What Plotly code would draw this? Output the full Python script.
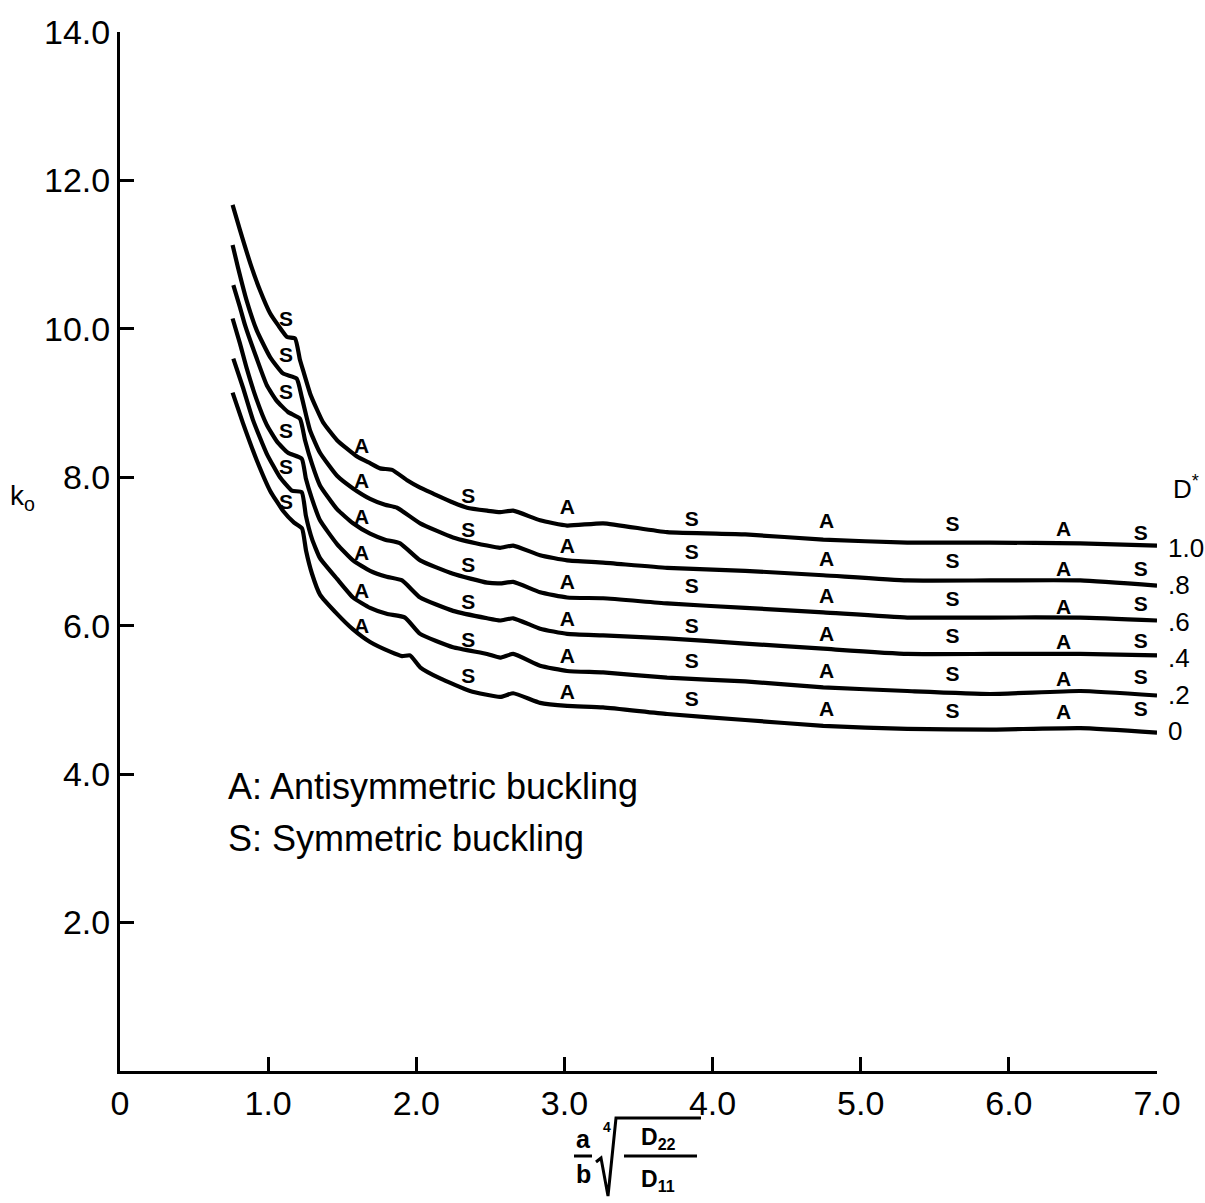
import plotly.graph_objects as go

# ---------------- data ----------------
d_star = ["1.0", ".8", ".6", ".4", ".2", "0"]

x_d10 = [0.76, 0.81, 0.88, 0.945, 1.013, 1.067, 1.128, 1.182, 1.215, 1.236, 1.283, 1.328, 1.371, 1.465,
         1.60, 1.688, 1.756, 1.837, 1.938, 2.026, 2.114, 2.248, 2.343, 2.478, 2.566, 2.654, 2.836,
         3.018, 3.261, 3.693, 4.22, 4.747, 5.314, 5.874, 6.482, 7.0]
k_d10 = [11.67, 11.33, 10.88, 10.52, 10.21, 10.05, 9.89, 9.87, 9.58, 9.44, 9.13, 8.92, 8.74, 8.50,
         8.28, 8.19, 8.12, 8.10, 7.96, 7.86, 7.78, 7.66, 7.59, 7.55, 7.53, 7.55, 7.42,
         7.35, 7.38, 7.26, 7.23, 7.16, 7.12, 7.12, 7.11, 7.08]

x_d08 = [0.76, 0.796, 0.855, 0.923, 1.013, 1.10, 1.193, 1.227, 1.283, 1.35, 1.465, 1.573, 1.688, 1.789,
         1.87, 2.026, 2.248, 2.478, 2.566, 2.654, 2.836, 3.018, 3.261, 3.693, 4.22, 4.747, 5.314,
         5.874, 6.482, 7.0]
k_d08 = [11.13, 10.83, 10.38, 9.98, 9.62, 9.40, 9.33, 9.08, 8.63, 8.33, 8.02, 7.85, 7.71, 7.63,
         7.59, 7.38, 7.19, 7.08, 7.05, 7.08, 6.95, 6.88, 6.85, 6.78, 6.74, 6.68, 6.61,
         6.61, 6.61, 6.54]

x_d06 = [0.765, 0.81, 0.844, 0.923, 0.991, 1.058, 1.134, 1.215, 1.249, 1.296, 1.35, 1.465, 1.573, 1.688,
         1.789, 1.891, 2.026, 2.248, 2.478, 2.566, 2.654, 2.836, 3.018, 3.261, 3.693, 4.22, 4.747,
         5.314, 5.874, 6.482, 7.0]
k_d06 = [10.59, 10.29, 10.05, 9.60, 9.24, 9.03, 8.88, 8.79, 8.50, 8.18, 7.89, 7.57, 7.38, 7.24,
         7.16, 7.11, 6.88, 6.70, 6.58, 6.57, 6.59, 6.45, 6.38, 6.37, 6.30, 6.24, 6.18,
         6.11, 6.11, 6.11, 6.07]

x_d04 = [0.76, 0.81, 0.855, 0.92, 0.99, 1.06, 1.134, 1.227, 1.255, 1.296, 1.35, 1.465, 1.573, 1.688,
         1.80, 1.904, 2.026, 2.248, 2.478, 2.566, 2.654, 2.836, 3.018, 3.261, 3.693, 4.22, 4.747,
         5.314, 5.874, 6.482, 7.0]
k_d04 = [10.14, 9.80, 9.47, 9.06, 8.71, 8.48, 8.33, 8.25, 7.98, 7.71, 7.42, 7.10, 6.88, 6.74,
         6.66, 6.61, 6.38, 6.20, 6.10, 6.07, 6.10, 5.96, 5.89, 5.87, 5.83, 5.76, 5.69,
         5.62, 5.62, 5.62, 5.60]

x_d02 = [0.765, 0.83, 0.898, 0.99, 1.08, 1.16, 1.227, 1.255, 1.296, 1.35, 1.465, 1.573, 1.688, 1.80,
         1.924, 2.026, 2.248, 2.478, 2.566, 2.654, 2.836, 3.018, 3.261, 3.693, 4.22, 4.747, 5.314,
         5.874, 6.482, 7.0]
k_d02 = [9.60, 9.21, 8.77, 8.32, 8.00, 7.82, 7.80, 7.48, 7.17, 6.91, 6.63, 6.38, 6.24, 6.16,
         6.11, 5.89, 5.71, 5.62, 5.57, 5.62, 5.46, 5.39, 5.37, 5.30, 5.25, 5.17, 5.12,
         5.08, 5.12, 5.06]

x_d00 = [0.76, 0.83, 0.923, 1.013, 1.10, 1.175, 1.229, 1.256, 1.296, 1.35, 1.465, 1.573, 1.688, 1.823,
         1.904, 1.958, 2.026, 2.161, 2.363, 2.566, 2.654, 2.836, 3.018, 3.261, 3.693, 4.22, 4.747,
         5.314, 5.874, 6.482, 7.0]
k_d00 = [9.14, 8.73, 8.23, 7.82, 7.55, 7.39, 7.31, 7.01, 6.70, 6.42, 6.16, 5.95, 5.78, 5.65,
         5.59, 5.60, 5.44, 5.29, 5.12, 5.04, 5.09, 4.96, 4.92, 4.90, 4.81, 4.73, 4.65,
         4.61, 4.60, 4.62, 4.56]

series_x = [x_d10, x_d08, x_d06, x_d04, x_d02, x_d00]
series_k = [k_d10, k_d08, k_d06, k_d04, k_d02, k_d00]

# buckling-mode letters written along each curve
mode_letters = ["S", "A", "S", "A", "S", "A", "S", "A", "S"]
mode_x = [1.12, 1.63, 2.35, 3.02, 3.86, 4.77, 5.62, 6.37, 6.89]
mode_k = [
    [10.11, 8.40, 7.73, 7.58, 7.42, 7.39, 7.35, 7.28, 7.22],
    [9.62, 7.93, 7.26, 7.05, 6.97, 6.88, 6.85, 6.74, 6.74],
    [9.13, 7.44, 6.80, 6.57, 6.51, 6.38, 6.34, 6.23, 6.27],
    [8.60, 6.95, 6.30, 6.07, 5.97, 5.87, 5.84, 5.76, 5.77],
    [8.12, 6.45, 5.79, 5.57, 5.50, 5.37, 5.33, 5.26, 5.29],
    [7.65, 5.97, 5.30, 5.08, 4.99, 4.86, 4.83, 4.81, 4.86],
]

x_tickvals = [0, 1, 2, 3, 4, 5, 6, 7]
x_ticktext = ["0", "1.0", "2.0", "3.0", "4.0", "5.0", "6.0", "7.0"]
y_tickvals = [2, 4, 6, 8, 10, 12, 14]
y_ticktext = ["2.0", "4.0", "6.0", "8.0", "10.0", "12.0", "14.0"]

# ---------------- layout helpers ----------------
W, H = 1205, 1203
ML, MR, MT, MB = 120, 48, 32, 132
PW, PH = W - ML - MR, H - MT - MB
FONT = "Liberation Sans, Arial, sans-serif"


def P(px, py):
    """pixel position -> paper coordinates"""
    return (px - ML) / PW, (H - MB - py) / PH


fig = go.Figure()

for name, xs, ks in zip(d_star, series_x, series_k):
    fig.add_trace(go.Scatter(x=xs, y=ks, mode="lines", name="D* = " + name,
                             line=dict(color="black", width=4.2, shape="spline", smoothing=0.45),
                             showlegend=False, hoverinfo="skip"))

for ks in mode_k:
    fig.add_trace(go.Scatter(x=mode_x, y=ks, mode="text", text=mode_letters,
                             textfont=dict(family=FONT, size=21, color="black", weight="bold"),
                             showlegend=False, hoverinfo="skip"))

annotations = []


def ann(px, py, text, size, xanchor="center", weight="normal"):
    ax, ay = P(px, py)
    annotations.append(dict(x=ax, y=ay, xref="paper", yref="paper", text=text, showarrow=False,
                            xanchor=xanchor, yanchor="middle",
                            font=dict(family=FONT, size=size, color="black", weight=weight)))


# D* values at the right end of the curves
for txt, py in zip(d_star, [548, 585, 622, 658, 695, 731]):
    ann(1166, py, txt, 26, xanchor="left")
ann(1186, 488, "D<sup>*</sup>", 26)

# legend text inside the plot
ann(226, 786, "A: Antisymmetric buckling", 36, xanchor="left")
ann(226, 838, "S: Symmetric buckling", 36, xanchor="left")

# y axis title
ann(22, 497, "k<sub>o</sub>", 28)

# x axis title: a/b * 4th-root(D22/D11)
ann(583, 1139, "a", 25, weight="bold")
ann(583, 1174, "b", 25, weight="bold")
ann(607, 1127, "4", 14, weight="bold")
ann(658, 1138, "D<sub>22</sub>", 23, weight="bold")
ann(658, 1180, "D<sub>11</sub>", 23, weight="bold")

shapes = []


def seg(pts, width=2.6):
    path = ""
    for i, (px, py) in enumerate(pts):
        ax, ay = P(px, py)
        path += ("M" if i == 0 else " L") + f"{ax:.5f},{ay:.5f}"
    shapes.append(dict(type="path", xref="paper", yref="paper", path=path,
                       line=dict(color="black", width=width)))


seg([(574, 1156), (592, 1156)], width=3)
seg([(624, 1156), (697, 1156)], width=3)
seg([(596, 1162), (601, 1158), (608, 1196), (616, 1118), (701, 1118)], width=3)

fig.update_layout(
    width=W, height=H,
    margin=dict(l=ML, r=MR, t=MT, b=MB),
    paper_bgcolor="white", plot_bgcolor="white",
    annotations=annotations, shapes=shapes,
    font=dict(family=FONT, color="black"),
    xaxis=dict(range=[0, 7], tickvals=x_tickvals, ticktext=x_ticktext,
               ticks="inside", ticklen=14, tickwidth=3, tickcolor="black",
               showline=True, linewidth=3, linecolor="black", showgrid=False, zeroline=False,
               tickfont=dict(family=FONT, size=34, color="black")),
    yaxis=dict(range=[0, 14], tickvals=y_tickvals, ticktext=y_ticktext,
               ticks="inside", ticklen=14, tickwidth=3, tickcolor="black",
               showline=True, linewidth=3, linecolor="black", showgrid=False, zeroline=False,
               tickfont=dict(family=FONT, size=34, color="black")),
)

fig.write_html("out.html")
